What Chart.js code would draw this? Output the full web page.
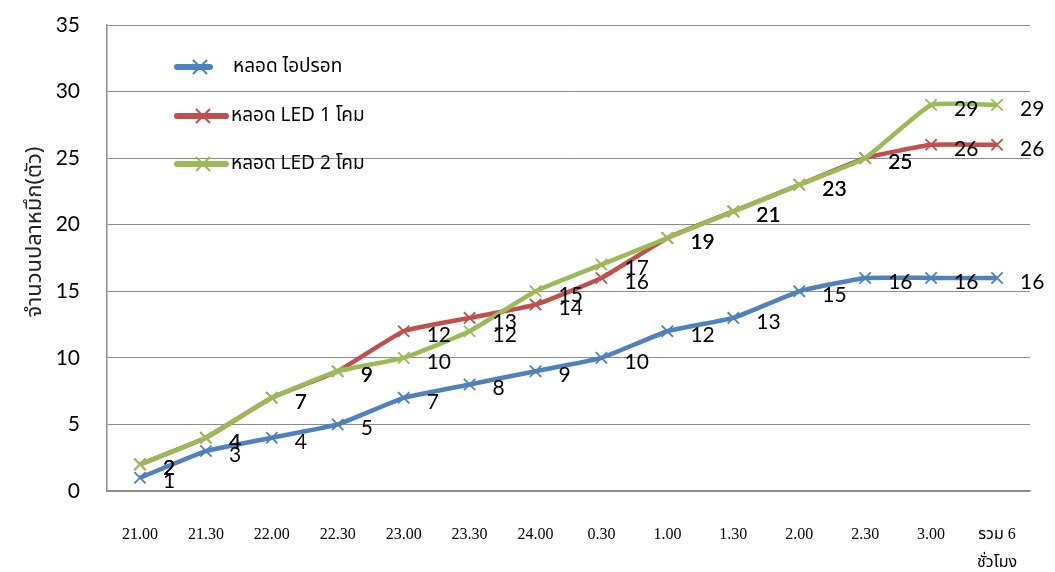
<!DOCTYPE html>
<html>
<head>
<meta charset="utf-8">
<script src="https://cdn.jsdelivr.net/npm/chart.js@4/dist/chart.umd.min.js"></script>
<style>
  html, body { margin: 0; padding: 0; background: #fff; }
  #wrap { width: 1055px; height: 572px; position: relative; }
</style>
</head>
<body>
<div id="wrap"><canvas id="c" width="1055" height="572"></canvas></div>
<script>
// Time slots through the night (the last one is the 6-hour total)
const categories = ['21.00', '21.30', '22.00', '22.30', '23.00', '23.30', '24.00',
  '0.30', '1.00', '1.30', '2.00', '2.30', '3.00', ['รวม 6', 'ชั่วโมง']];

// Cumulative squid catch per lamp type
const mercuryLamp = [1, 3, 4, 5, 7, 8, 9, 10, 12, 13, 15, 16, 16, 16];
const led1Lamp    = [2, 4, 7, 9, 12, 13, 14, 16, 19, 21, 23, 25, 26, 26];
const led2Lamp    = [2, 4, 7, 9, 10, 12, 15, 17, 19, 21, 23, 25, 29, 29];

const seriesNames = ['หลอด ไอปรอท', 'หลอด LED 1 โคม', 'หลอด LED 2 โคม'];
const yTitle = 'จำนวนปลาหมึก(ตัว)';

const COLORS = ['#4F81BD', '#C0504D', '#9BBB59'];
const LABEL_FONT = '21px Lato, "Open Sans", sans-serif';
const THAI_FONT = '"Noto Sans Thai", "Noto Sans", "DejaVu Sans", sans-serif';

function makeSet(label, data, color, order) {
  return {
    label, data, order,
    borderColor: color,
    backgroundColor: color,
    borderWidth: 4.5,
    pointStyle: 'crossRot',
    pointRadius: 8,
    pointHoverRadius: 8,
    pointBorderWidth: 1.8,
    pointBorderColor: color,
    tension: 0.12,
    clip: false
  };
}

// Value labels to the lower right of every point
const valueLabels = {
  id: 'valueLabels',
  afterDatasetsDraw(chart) {
    const ctx = chart.ctx;
    ctx.save();
    ctx.font = LABEL_FONT;
    ctx.fillStyle = '#000';
    ctx.textAlign = 'left';
    ctx.textBaseline = 'middle';
    chart.data.datasets.forEach((ds, i) => {
      const meta = chart.getDatasetMeta(i);
      meta.data.forEach((pt, j) => {
        ctx.fillText(String(ds.data[j]), pt.x + 23, pt.y + 4);
      });
    });
    ctx.restore();
  }
};

// Legend drawn inside the plot area, upper left
const innerLegend = {
  id: 'innerLegend',
  afterDraw(chart) {
    const ctx = chart.ctx;
    const rows = [67, 116, 164];
    ctx.save();
    chart.data.datasets.forEach((ds, i) => {
      const y = rows[i];
      const x0 = 177, x1 = i === 0 ? 210 : 226;
      const mx = i === 0 ? 200 : 203;
      ctx.strokeStyle = ds.borderColor;
      ctx.lineWidth = 6;
      ctx.lineCap = 'round';
      ctx.beginPath(); ctx.moveTo(x0, y); ctx.lineTo(x1, y); ctx.stroke();
      ctx.lineWidth = 2;
      ctx.lineCap = 'butt';
      const r = 7;
      ctx.beginPath();
      ctx.moveTo(mx - r, y - r); ctx.lineTo(mx + r, y + r);
      ctx.moveTo(mx - r, y + r); ctx.lineTo(mx + r, y - r);
      ctx.stroke();
      ctx.fillStyle = '#000';
      ctx.font = '19px ' + THAI_FONT;
      ctx.textAlign = 'left';
      ctx.textBaseline = 'middle';
      ctx.fillText(ds.label, i === 0 ? 233 : 231, y + 1);
    });
    ctx.restore();
  }
};

// Rotated y-axis title
const yAxisTitle = {
  id: 'yAxisTitle',
  afterDraw(chart) {
    const ctx = chart.ctx;
    ctx.save();
    ctx.translate(37, 232);
    ctx.rotate(-Math.PI / 2);
    ctx.font = '22px ' + THAI_FONT;
    ctx.fillStyle = '#222';
    ctx.textAlign = 'center';
    ctx.textBaseline = 'middle';
    ctx.fillText(yTitle, 0, 0);
    ctx.restore();
  }
};

new Chart(document.getElementById('c'), {
  type: 'line',
  data: {
    labels: categories,
    datasets: [
      makeSet(seriesNames[0], mercuryLamp, COLORS[0], 2),
      makeSet(seriesNames[1], led1Lamp, COLORS[1], 1),
      makeSet(seriesNames[2], led2Lamp, COLORS[2], 0)
    ]
  },
  options: {
    responsive: false,
    animation: false,
    devicePixelRatio: 1,
    layout: { padding: { top: 25, right: 25, left: 0, bottom: 0 } },
    plugins: {
      legend: { display: false },
      tooltip: { enabled: false }
    },
    scales: {
      x: {
        offset: true,
        grid: { display: false, drawTicks: false },
        border: { display: true, color: '#8c8c8c', width: 1.5 },
        ticks: {
          color: '#000',
          padding: 30,
          maxRotation: 0,
          autoSkip: false,
          font: { family: '"Liberation Serif", "Times New Roman", ' + THAI_FONT, size: 16, lineHeight: 1.75 }
        },
        afterFit(s) { s.height = 81; }
      },
      y: {
        min: 0, max: 35,
        ticks: {
          stepSize: 5,
          color: '#000',
          padding: 0,
          font: { family: 'Lato, "Open Sans", sans-serif', size: 21 }
        },
        grid: { color: '#8c8c8c', lineWidth: 1, drawTicks: true, tickLength: 27, tickColor: 'rgba(0,0,0,0)' },
        border: { display: true, color: '#8c8c8c', width: 1.5 },
        afterFit(s) { s.width = 107; }
      }
    }
  },
  plugins: [valueLabels, innerLegend, yAxisTitle]
});
</script>
</body>
</html>
